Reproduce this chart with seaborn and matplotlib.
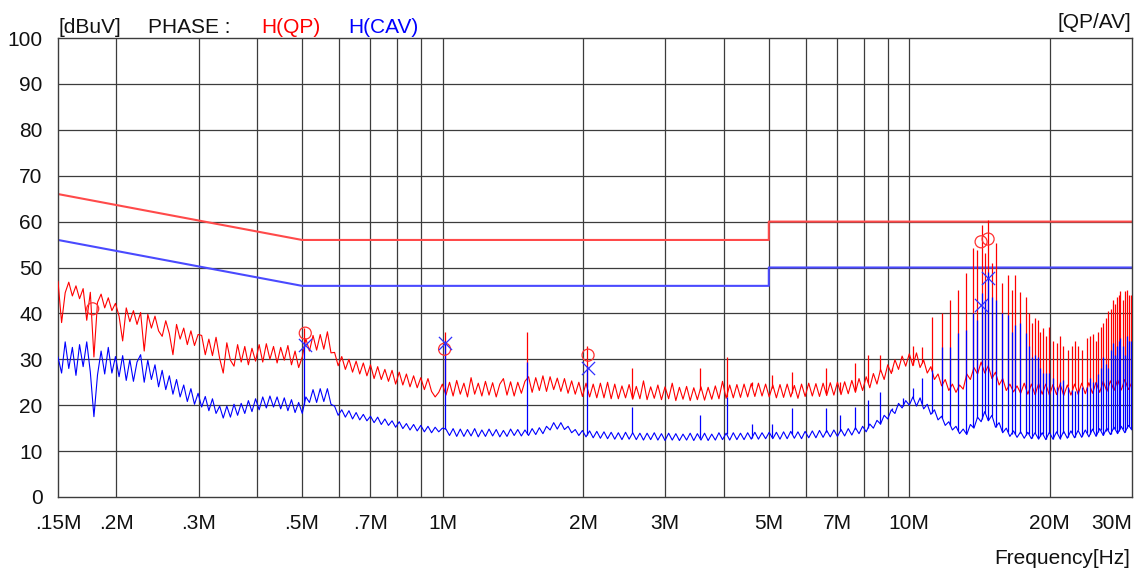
import numpy as np
import pandas as pd
import seaborn as sns
import matplotlib
matplotlib.use('Agg')
import matplotlib.pyplot as plt

qp_level = [
    # .15M - .2M
    47.0, 38.0, 44.5, 46.8, 43.8, 46.0, 43.2, 45.4, 38.5, 44.6, 30.5, 42.4, 44.2, 41.2, 43.4, 40.6, 42.2,
    # .2M - .3M
    39.4, 34.0, 41.2, 38.2, 40.6, 37.6, 40.2, 31.8, 39.8, 36.8, 39.4, 36.2, 35.0, 38.4, 35.6, 31.0,
    37.6, 34.4, 36.8, 33.2, 36.2, 33.0, 35.4,
    # .3M - .5M
    35.2, 31.0, 34.4, 30.8, 34.8, 30.2, 27.0, 33.6, 29.8, 28.5, 33.2, 29.4, 32.8, 28.8, 32.4, 29.6,
    33.2, 29.4, 33.4, 30.0, 32.8, 29.2, 32.6, 29.8, 33.0, 28.8, 31.8, 28.2, 30.5,
    # .5M - .6M
    34.5, 31.8, 35.2, 32.0, 35.4, 32.2, 36.0, 31.4, 31.5, 28.6,
    # .6M - 1M
    30.6, 27.8, 30.0, 27.2, 29.6, 26.8, 29.2, 26.4, 28.8, 25.8, 28.4, 25.6, 27.8, 25.2, 27.6, 24.6,
    27.2, 24.4, 26.8, 24.0, 26.4, 23.8, 26.0, 23.4, 25.8, 23.0, 21.8, 22.8, 24.6,
    # 1M - 5M
    22.2, 25.0, 22.0, 25.4, 22.4, 24.8, 21.8, 26.0, 22.4, 24.8,
    22.0, 25.2, 22.2, 24.9, 21.8, 24.6, 25.8, 22.2, 25.1, 22.0,
    25.0, 22.6, 25.2, 26.2, 22.8, 26.0, 23.2, 26.4, 23.0, 26.2,
    23.4, 25.9, 23.0, 25.8, 22.6, 25.3, 22.4, 25.0, 21.9, 24.8,
    21.8, 24.6, 21.6, 24.8, 21.6, 25.0, 21.4, 24.6, 21.4, 24.2,
    21.6, 24.5, 21.3, 24.1, 21.4, 25.3, 21.2, 24.0, 21.5, 24.4,
    21.2, 24.0, 21.4, 24.8, 21.0, 23.9, 21.3, 24.1, 21.0, 23.8,
    21.2, 24.0, 21.1, 23.9, 21.3, 24.2, 21.4, 25.2, 21.5, 24.4,
    21.6, 24.5, 21.7, 24.6, 21.8, 24.7, 21.9, 24.8, 22.0, 24.6, 21.8,
    # 5M - 10M
    24.4, 21.6, 24.5, 21.7, 24.6, 21.8, 24.3, 21.5, 24.6, 21.9,
    24.8, 22.0, 24.7, 21.9, 24.8, 22.1, 24.9, 22.2, 25.0, 22.3,
    25.1, 22.5, 25.4, 22.8, 25.8, 23.2, 26.2, 23.8, 26.9, 24.6,
    27.8, 25.6, 28.8, 26.9, 29.9, 27.8, 30.7, 28.5, 31.2,
    # 10M - 30M
    28.6, 31.4, 28.2, 29.8, 27.0, 28.4, 25.6, 26.8, 24.2, 25.6,
    23.2, 24.6, 22.8, 24.4, 23.5, 26.8, 25.6, 28.2, 26.8, 29.4,
    27.0, 28.6, 25.8, 27.2, 24.4, 25.8, 23.2, 24.6, 22.9, 24.2,
    22.6, 24.8, 22.4, 24.6, 22.3, 24.7, 22.4, 24.6, 22.2, 24.5,
    22.3, 24.6, 22.1, 24.4, 22.2, 24.6, 22.4, 24.8, 22.5, 24.9,
    22.6, 25.0, 22.8, 25.2, 23.0, 25.3, 23.2, 25.5, 23.3, 25.6, 23.4, 25.0,
]

av_level = [
    # .15M - .2M
    30.5, 27.0, 33.8, 28.0, 32.6, 26.5, 33.2, 28.4, 33.8, 27.2, 17.5, 26.6, 31.8, 26.8, 32.6, 27.0, 30.6,
    # .2M - .3M
    26.2, 30.8, 25.4, 29.9, 25.2, 29.4, 31.0, 25.0, 29.8, 25.6, 28.8, 24.0, 27.6, 23.4, 26.4, 22.4,
    25.6, 21.8, 24.4, 20.8, 23.6, 20.2, 22.6,
    # .3M - .5M
    19.6, 21.9, 18.8, 21.4, 18.2, 19.8, 17.2, 19.8, 17.4, 20.2, 17.8, 20.4, 18.2, 21.0, 18.6, 21.4,
    19.0, 21.8, 19.4, 22.0, 19.6, 21.8, 19.2, 21.6, 18.8, 21.2, 18.4, 20.6, 18.2,
    # .5M - .6M
    21.8, 20.6, 23.4, 20.6, 23.6, 20.8, 23.6, 20.2, 19.8, 17.8,
    # .6M - 1M
    19.0, 17.4, 18.8, 17.0, 18.4, 16.8, 18.0, 16.6, 17.6, 16.2, 17.4, 15.8, 17.0, 15.6, 16.6, 15.2,
    16.4, 14.9, 16.0, 14.6, 15.8, 14.4, 15.6, 14.2, 15.4, 14.0, 15.2, 14.2, 15.0,
    # 1M - 5M
    14.8, 13.4, 14.9, 13.2, 14.8, 13.2, 14.7, 13.3, 14.9, 13.1,
    14.6, 13.2, 14.8, 13.3, 14.7, 13.1, 14.5, 13.2, 14.8, 13.4,
    14.7, 13.3, 14.6, 13.4, 14.9, 13.6, 15.1, 13.8, 15.4, 14.6,
    16.2, 14.8, 16.2, 14.7, 15.4, 14.0, 14.7, 13.4, 14.5, 13.1,
    14.4, 12.9, 14.3, 12.8, 14.2, 12.7, 14.1, 12.6, 14.0, 12.5,
    14.1, 12.6, 14.0, 12.5, 13.9, 12.4, 13.9, 12.5, 14.0, 12.4,
    13.8, 12.3, 13.9, 12.4, 13.8, 12.3, 13.7, 12.4, 13.9, 12.3,
    13.8, 12.4, 13.9, 12.3, 13.7, 12.4, 14.0, 12.5, 13.9, 12.4,
    14.0, 12.5, 13.9, 12.5, 14.0, 12.6, 14.1, 12.6, 14.0, 12.7, 14.1,
    # 5M - 10M
    12.7, 14.1, 12.6, 14.2, 12.7, 14.3, 12.8, 14.2, 12.7, 14.3,
    12.9, 14.4, 12.9, 14.5, 13.0, 14.5, 13.1, 14.6, 13.2, 14.7,
    13.3, 14.9, 13.5, 15.1, 13.8, 15.4, 14.2, 15.9, 15.0, 16.7,
    15.9, 17.8, 17.0, 19.0, 18.2, 20.4, 19.4, 21.0, 20.0,
    # 10M - 30M
    21.8, 19.8, 21.6, 19.2, 20.2, 18.0, 19.0, 16.8, 17.6, 15.6,
    16.4, 14.6, 15.4, 13.8, 14.8, 13.6, 15.8, 15.0, 17.4, 16.4,
    18.6, 16.6, 17.8, 15.2, 16.2, 14.0, 15.0, 13.2, 14.4, 13.0,
    14.2, 12.8, 14.1, 12.7, 14.0, 12.6, 14.0, 12.5, 14.1, 12.6,
    14.2, 12.7, 14.3, 12.8, 14.4, 12.9, 14.5, 13.0, 14.6, 13.1,
    14.8, 13.2, 14.9, 13.4, 15.0, 13.6, 15.2, 13.8, 15.4, 14.0, 15.6, 14.6,
]

# narrow-band spikes (MHz) with their QP and AV peak levels
spike_freq = [0.505, 1.01, 1.52, 2.04, 2.55, 3.56, 4.06, 4.60, 5.08, 5.61, 6.63, 7.11, 7.65, 8.16,
              8.66, 9.18, 9.70, 10.19, 10.65, 11.19, 11.76, 12.23, 12.72, 13.23, 13.70, 13.98,
              14.33, 14.54, 14.75, 15.05, 15.34, 15.81, 16.28, 16.57, 16.85, 17.27, 17.79, 18.05,
              18.30, 18.60, 18.88, 19.10, 19.35, 19.65, 19.93, 20.33, 20.73, 21.05, 21.36, 21.85,
              22.33, 22.65, 23.00, 23.50, 24.04, 24.40, 24.77, 25.07, 25.38, 25.70, 26.01, 26.34,
              26.67, 27.00, 27.33, 27.60, 27.87, 28.10, 28.29, 28.65, 29.00, 29.30, 29.58, 29.85]
spike_qp = [36.8, 36.0, 36.0, 32.8, 28.0, 28.0, 30.5, 25.0, 26.6, 27.3, 28.0, 25.0, 29.2, 31.0,
            31.0, 28.0, 30.0, 33.0, 32.7, 39.2, 40.0, 42.9, 45.1, 48.8, 54.2, 53.8,
            59.3, 53.2, 60.3, 51.0, 55.3, 46.6, 48.4, 45.0, 48.4, 44.7, 43.6, 40.0,
            37.9, 39.0, 38.6, 36.0, 36.8, 35.0, 37.0, 34.0, 33.5, 35.0, 33.0, 32.0,
            33.0, 34.0, 33.0, 32.0, 34.6, 35.0, 35.6, 34.0, 36.0, 37.0, 37.9, 39.0,
            40.5, 41.0, 43.0, 42.0, 43.6, 44.0, 44.8, 43.0, 44.8, 45.0, 44.0, 44.0]
spike_av = [33.8, 34.0, 29.4, 28.6, 19.6, 17.8, 21.8, 16.0, 16.0, 19.4, 19.3, 17.9, 19.6, 21.1,
            22.9, 19.4, 21.5, 23.7, 25.9, 27.7, 32.7, 32.7, 35.7, 36.4, 40.0, 38.5,
            44.4, 42.9, 49.0, 43.6, 42.9, 40.0, 39.6, 36.0, 37.5, 37.9, 35.7, 33.0,
            30.6, 31.0, 30.6, 28.0, 27.0, 27.0, 27.0, 26.0, 24.0, 25.0, 25.5, 24.0,
            23.3, 23.0, 23.3, 24.0, 24.0, 26.0, 25.0, 25.0, 26.8, 28.0, 30.5, 29.0,
            28.0, 32.0, 33.5, 31.0, 33.0, 34.0, 34.6, 33.0, 31.0, 35.0, 34.0, 34.0]

# final measurement markers
qp_mark_freq = [0.178, 0.508, 1.01, 2.05, 14.25, 14.75]
qp_mark_level = [41.0, 35.7, 32.2, 30.9, 55.6, 56.2]
av_mark_freq = [0.508, 1.01, 2.05, 14.25, 14.75]
av_mark_level = [33.1, 33.5, 28.0, 41.8, 47.7]

# limit lines
limit_freq = [0.15, 0.5, 5, 5, 30]
qp_limit = [66, 56, 56, 60, 60]
av_limit = [56, 46, 46, 50, 50]

tick_freq = [0.15, 0.2, 0.3, 0.5, 0.7, 1, 2, 3, 5, 7, 10, 20, 30]
tick_text = ['.15M', '.2M', '.3M', '.5M', '.7M', '1M', '2M', '3M', '5M', '7M', '10M', '20M', '30M']
grid_freq = [0.2, 0.3, 0.4, 0.5, 0.6, 0.7, 0.8, 0.9, 1, 2, 3, 4, 5, 6, 7, 8, 9, 10, 20]

# sweep points are log spaced over the band
qp = pd.DataFrame({'freq': np.geomspace(0.15, 30, len(qp_level)), 'level': qp_level})
av = pd.DataFrame({'freq': np.geomspace(0.15, 30, len(av_level)), 'level': av_level})

sns.set_style('white')
plt.rcParams['font.family'] = ['Liberation Sans', 'DejaVu Sans']

W, H = 1139, 570
fig = plt.figure(figsize=(W / 100, H / 100), dpi=100)
ax = fig.add_axes([58 / W, 1 - 497 / H, (1132 - 58) / W, (497 - 38) / H])
ax.set_xscale('log')
ax.set_xlim(0.15, 30)
ax.set_ylim(0, 100)

# grid
for f in grid_freq:
    ax.axvline(f, color='#3c3c3c', lw=0.9, zorder=1)
for v in range(10, 100, 10):
    ax.axhline(v, color='#3c3c3c', lw=0.9, zorder=1)

# limits
ax.plot(limit_freq, qp_limit, color='#ff4a4a', lw=1.5, zorder=2)
ax.plot(limit_freq, av_limit, color='#4a4aff', lw=1.5, zorder=2)

# traces
sns.lineplot(data=qp, x='freq', y='level', color='#ff0000', lw=0.8, estimator=None, sort=False, ax=ax, zorder=3)
qp_foot = np.interp(np.log10(spike_freq), np.log10(qp['freq']), qp['level'])
ax.vlines(spike_freq, qp_foot, spike_qp, color='#ff0000', lw=0.9, zorder=3)

sns.lineplot(data=av, x='freq', y='level', color='#0000ff', lw=0.8, estimator=None, sort=False, ax=ax, zorder=4)
av_foot = np.interp(np.log10(spike_freq), np.log10(av['freq']), av['level'])
ax.vlines(spike_freq, av_foot, spike_av, color='#0000ff', lw=0.9, zorder=4)

# markers
sns.scatterplot(x=qp_mark_freq, y=qp_mark_level, marker='o', s=75, facecolor='none',
                edgecolor='#ff3030', linewidth=0.9, ax=ax, zorder=5)
sns.scatterplot(x=av_mark_freq, y=av_mark_level, marker='x', s=90, color='#3030ff',
                linewidth=0.9, ax=ax, zorder=5)

ax.set_xticks(tick_freq)
ax.set_xticklabels(tick_text)
ax.get_xticklabels()[-1].set_horizontalalignment('right')
ax.minorticks_off()
ax.set_yticks(range(0, 101, 10))
ax.tick_params(axis='both', length=0, labelsize=15, colors='#111111')
ax.tick_params(axis='x', pad=12)
ax.tick_params(axis='y', pad=11)
ax.set_xlabel('')
ax.set_ylabel('')
for s in ax.spines.values():
    s.set_color('#3c3c3c')
    s.set_linewidth(1.0)

def fig_text(x, y, s, **kw):
    fig.text(x / W, 1 - y / H, s, fontsize=15, va='baseline', **kw)

fig_text(58, 33, '[dBuV]', color='#111111')
fig_text(148, 33, 'PHASE :', color='#111111')
fig_text(261, 33, 'H(QP)', color='#ff0000')
fig_text(348, 33, 'H(CAV)', color='#0000ff')
fig_text(1131, 28, '[QP/AV]', color='#111111', ha='right')
fig_text(1130, 564, 'Frequency[Hz]', color='#111111', ha='right')

fig.savefig('out.png', dpi=100)
